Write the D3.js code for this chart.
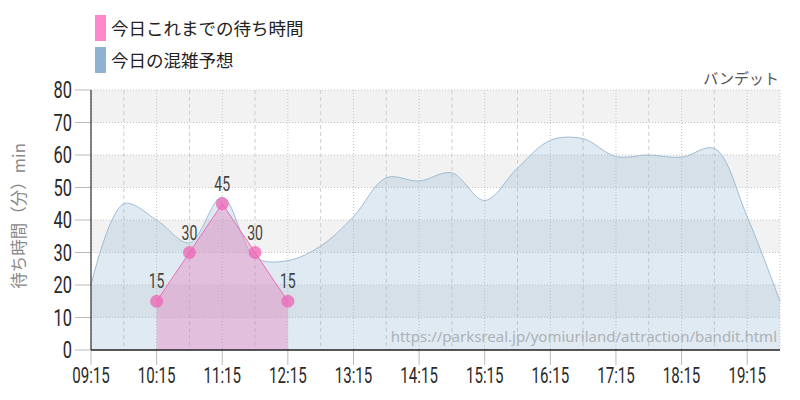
<!DOCTYPE html>
<html><head><meta charset="utf-8">
<script src="https://cdn.jsdelivr.net/npm/d3@7"></script>
<style>
html,body{margin:0;padding:0;background:#fff;}
svg{display:block;}
</style></head>
<body>
<svg id="chart" width="800" height="400"></svg>
<script>
// ---- data ----
const forecastTimes = ["09:15","09:45","10:15","10:45","11:15","11:45","12:15","12:45","13:15","13:45","14:15","14:45","15:15","15:45","16:15","16:45","17:15","17:45","18:15","18:45","19:15","19:45"];
const forecastValues = [20,45,40,33,47,28.5,27.5,32,41,53,52,54.5,46,56,64.5,65,59.5,60,59.3,62,41,15];
const actualTimes = ["10:15","10:45","11:15","11:45","12:15"];
const actualValues = [15,30,45,30,15];
const xTickLabels = ["09:15","10:15","11:15","12:15","13:15","14:15","15:15","16:15","17:15","18:15","19:15"];
const yTicks = [0,10,20,30,40,50,60,70,80];
const legendLabels = ["今日これまでの待ち時間","今日の混雑予想"];
const yTitle = "待ち時間（分）min";
const attractionName = "バンデット";
const sourceUrl = "https://parksreal.jp/yomiuriland/attraction/bandit.html";
const domainStart = "09:15", domainEnd = "19:45";

// ---- helpers ----
const toMin = s => { const [h,m] = s.split(":").map(Number); return h*60+m; };
const svg = d3.select("#chart");
const L = 91, R = 780, T = 90, B = 350;
const x = d3.scaleLinear().domain([toMin(domainStart), toMin(domainEnd)]).range([L, R]);
const y = d3.scaleLinear().domain([0, 80]).range([B, T]);
const numFont = "Roboto, 'Liberation Sans', sans-serif";
const cjkFont = "'Noto Sans CJK JP', 'Noto Sans', sans-serif";

// bands
const bandStarts = yTicks.filter(v => v < 80 && (v/10) % 2 === 1);
svg.append("g").selectAll("rect").data(bandStarts).join("rect")
  .attr("x", L).attr("width", R - L)
  .attr("y", d => y(d + 10)).attr("height", d => y(d) - y(d + 10))
  .attr("fill", "#f2f2f2");

// vertical gridlines: hour ticks dotted, half-hours dashed
const hourMins = xTickLabels.map(toMin);
const halfMins = hourMins.map(m => m + 30).filter(m => m < toMin(domainEnd));
const grid = svg.append("g");
grid.selectAll("line.h").data(hourMins).join("line").attr("class","h")
  .attr("x1", d => x(d)).attr("x2", d => x(d)).attr("y1", T).attr("y2", B)
  .attr("stroke", "#c4c4c4").attr("stroke-dasharray", "1,2");
grid.selectAll("line.hh").data(halfMins).join("line").attr("class","hh")
  .attr("x1", d => x(d)).attr("x2", d => x(d)).attr("y1", T).attr("y2", B)
  .attr("stroke", "#cfcfcf").attr("stroke-dasharray", "4,3");
grid.append("line").attr("x1", R).attr("x2", R).attr("y1", T).attr("y2", B)
  .attr("stroke", "#c4c4c4").attr("stroke-dasharray", "1,2");
grid.selectAll("line.y").data(yTicks.filter(v => v > 0)).join("line").attr("class","y")
  .attr("x1", L).attr("x2", R).attr("y1", d => y(d)).attr("y2", d => y(d))
  .attr("stroke", "#c4c4c4").attr("stroke-dasharray", "1,2");

// forecast area
const fData = forecastTimes.map((t,i) => ({t: toMin(t), v: forecastValues[i]}));
const curveF = d3.curveCatmullRom.alpha(0.5);
const areaF = d3.area().x(d => x(d.t)).y0(y(0)).y1(d => y(d.v)).curve(curveF);
const lineF = d3.line().x(d => x(d.t)).y(d => y(d.v)).curve(curveF);
svg.append("path").datum(fData).attr("d", areaF).attr("fill", "rgba(143,178,207,0.28)");
svg.append("path").datum(fData).attr("d", lineF).attr("fill", "none")
  .attr("stroke", "#9fbcd6").attr("stroke-width", 1);

// actual area
const aData = actualTimes.map((t,i) => ({t: toMin(t), v: actualValues[i]}));
const areaA = d3.area().x(d => x(d.t)).y0(y(0)).y1(d => y(d.v));
const lineA = d3.line().x(d => x(d.t)).y(d => y(d.v));
svg.append("path").datum(aData).attr("d", areaA).attr("fill", "rgba(230,130,190,0.4)");
svg.append("path").datum(aData).attr("d", lineA).attr("fill", "none")
  .attr("stroke", "#ec6fb8").attr("stroke-width", 1);
svg.append("g").selectAll("circle").data(aData).join("circle")
  .attr("cx", d => x(d.t)).attr("cy", d => y(d.v)).attr("r", 6.5)
  .attr("fill", "rgba(238,100,180,0.75)");
svg.append("g").selectAll("text").data(aData).join("text")
  .attr("transform", d => `translate(${x(d.t)},${y(d.v) - 13}) scale(0.72,1)`)
  .attr("text-anchor", "middle").attr("font-family", numFont).attr("font-size", 19.5)
  .attr("fill", "#444").text(d => d.v);

// source url
svg.append("text").attr("x", R - 3).attr("y", 342).attr("text-anchor", "end")
  .attr("font-family", "'Noto Sans', sans-serif").attr("font-size", 15)
  .attr("fill", "#adb1b6").text(sourceUrl);

// axes
const ax = svg.append("g");
ax.selectAll("line.yt").data(yTicks).join("line").attr("class","yt")
  .attr("x1", 75).attr("x2", L).attr("y1", d => y(d)).attr("y2", d => y(d))
  .attr("stroke", "#bbb");
ax.selectAll("text.yl").data(yTicks).join("text").attr("class","yl")
  .attr("transform", d => `translate(72,${y(d) + 8.3}) scale(0.7,1)`)
  .attr("text-anchor", "end").attr("font-family", numFont).attr("font-size", 23.5)
  .attr("fill", "#2a2a2a").text(d => d);
ax.selectAll("line.xt").data(hourMins).join("line").attr("class","xt")
  .attr("x1", d => x(d)).attr("x2", d => x(d)).attr("y1", B).attr("y2", B + 15)
  .attr("stroke", "#bbb");
ax.selectAll("text.xl").data(xTickLabels).join("text").attr("class","xl")
  .attr("transform", d => `translate(${x(toMin(d))},383) scale(0.67,1)`)
  .attr("text-anchor", "middle").attr("font-family", numFont).attr("font-size", 22.5)
  .attr("fill", "#2a2a2a").text(d => d);
ax.append("line").attr("x1", L).attr("x2", L).attr("y1", T).attr("y2", B)
  .attr("stroke", "#333").attr("stroke-width", 1.2);
ax.append("line").attr("x1", L).attr("x2", R).attr("y1", B).attr("y2", B)
  .attr("stroke", "#222").attr("stroke-width", 1.5);

// y title
svg.append("text").attr("transform", "translate(25,216) rotate(-90)")
  .attr("text-anchor", "middle").attr("font-family", cjkFont).attr("font-size", 16.5)
  .attr("fill", "#888").text(yTitle);

// attraction name
svg.append("text").attr("x", 779).attr("y", 84).attr("text-anchor", "end")
  .attr("font-family", cjkFont).attr("font-size", 15).attr("fill", "#555").text(attractionName);

// legend
const legendColors = ["#ff88cc", "#8fb2d1"];
const lg = svg.append("g");
lg.selectAll("rect").data(legendLabels).join("rect")
  .attr("x", 95).attr("y", (d,i) => 15 + i*32).attr("width", 11).attr("height", 26)
  .attr("fill", (d,i) => legendColors[i]);
lg.selectAll("text").data(legendLabels).join("text")
  .attr("x", 111).attr("y", (d,i) => 34.5 + i*32)
  .attr("font-family", cjkFont).attr("font-size", 17.5).attr("fill", "#222").text(d => d);
</script>
</body></html>
